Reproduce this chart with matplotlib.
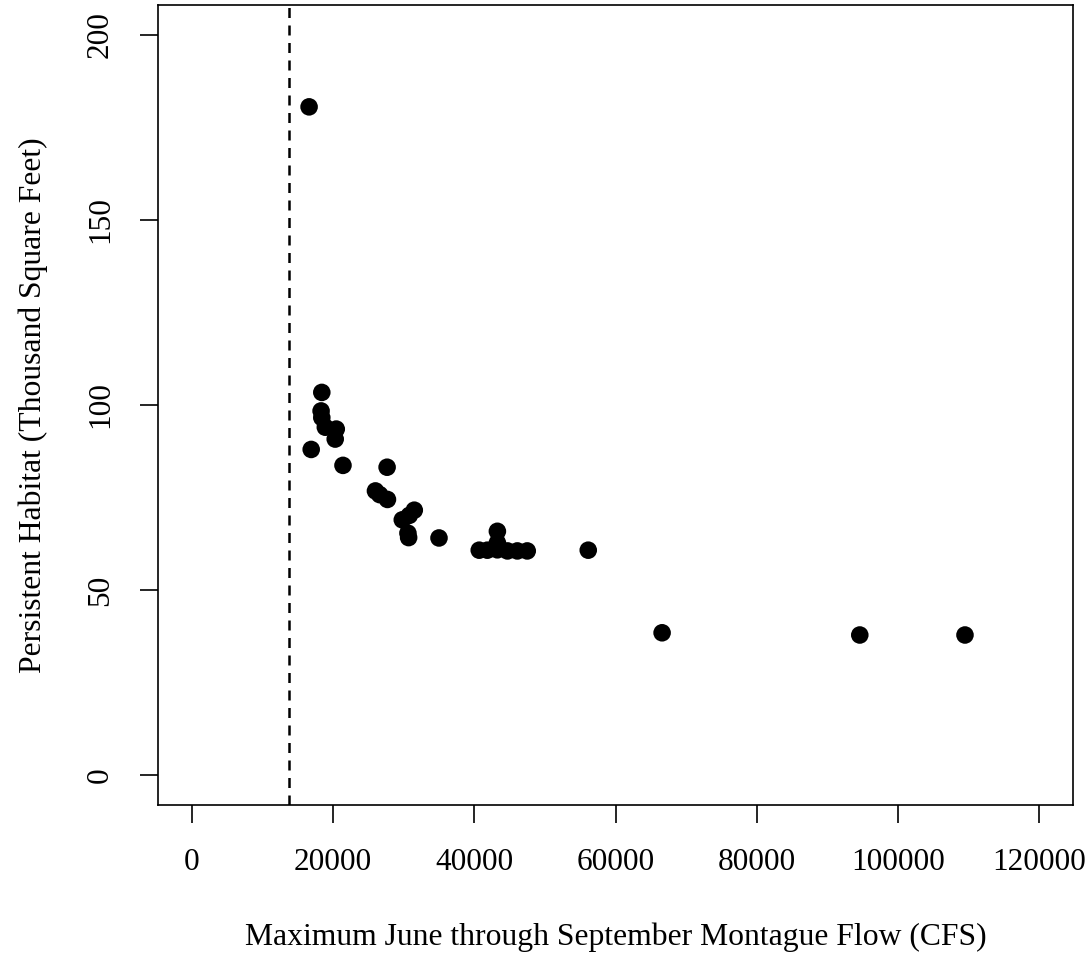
import matplotlib
matplotlib.use('Agg')
import matplotlib.pyplot as plt

# max June-Sept Montague flow (cfs) vs persistent habitat (thousand sq ft)
flow = [16600, 16900, 18400, 18300, 18400, 18900, 20450, 20300, 21400,
        27650, 26000, 26600, 27700, 31500, 30800, 29800, 30600, 30700,
        35000, 40700, 41850, 43270, 43270, 43270, 44700, 46100, 47500,
        56140, 66600, 94600, 109500]
habitat = [180.5, 88.0, 103.4, 98.4, 96.6, 94.0, 93.5, 90.8, 83.7,
           83.2, 76.8, 75.8, 74.5, 71.6, 70.2, 69.0, 65.4, 64.2,
           64.1, 60.8, 60.8, 65.9, 62.8, 60.9, 60.6, 60.6, 60.6,
           60.8, 38.5, 37.9, 37.9]
threshold = 13800

plt.rcParams['font.family'] = ['Liberation Serif', 'DejaVu Serif']

fig = plt.figure(figsize=(10.9, 9.61), dpi=100)
ax = fig.add_axes([158 / 1090, 1 - 805 / 961, 915 / 1090, 800 / 961])

ax.scatter(flow, habitat, s=160, color='black', edgecolors='none', zorder=3)
ax.axvline(threshold, color='black', lw=1.8, ls=(0, (4, 3)))

ax.set_xlim(-4800, 124800)
ax.set_ylim(-8, 208)
ax.set_xticks([0, 20000, 40000, 60000, 80000, 100000, 120000])
ax.set_yticks([0, 50, 100, 150, 200])
ax.tick_params(axis='both', labelsize=22.5, length=13, width=1.2, pad=18)
for lbl in ax.get_yticklabels():
    lbl.set_rotation(90)
    lbl.set_va('center')
for sp in ax.spines.values():
    sp.set_linewidth(1.2)

ax.set_xlabel('Maximum June through September Montague Flow (CFS)', fontsize=22.8, labelpad=33)
ax.set_ylabel('Persistent Habitat (Thousand Square Feet)', fontsize=22.8, labelpad=27)

fig.savefig('out.png', dpi=100)
